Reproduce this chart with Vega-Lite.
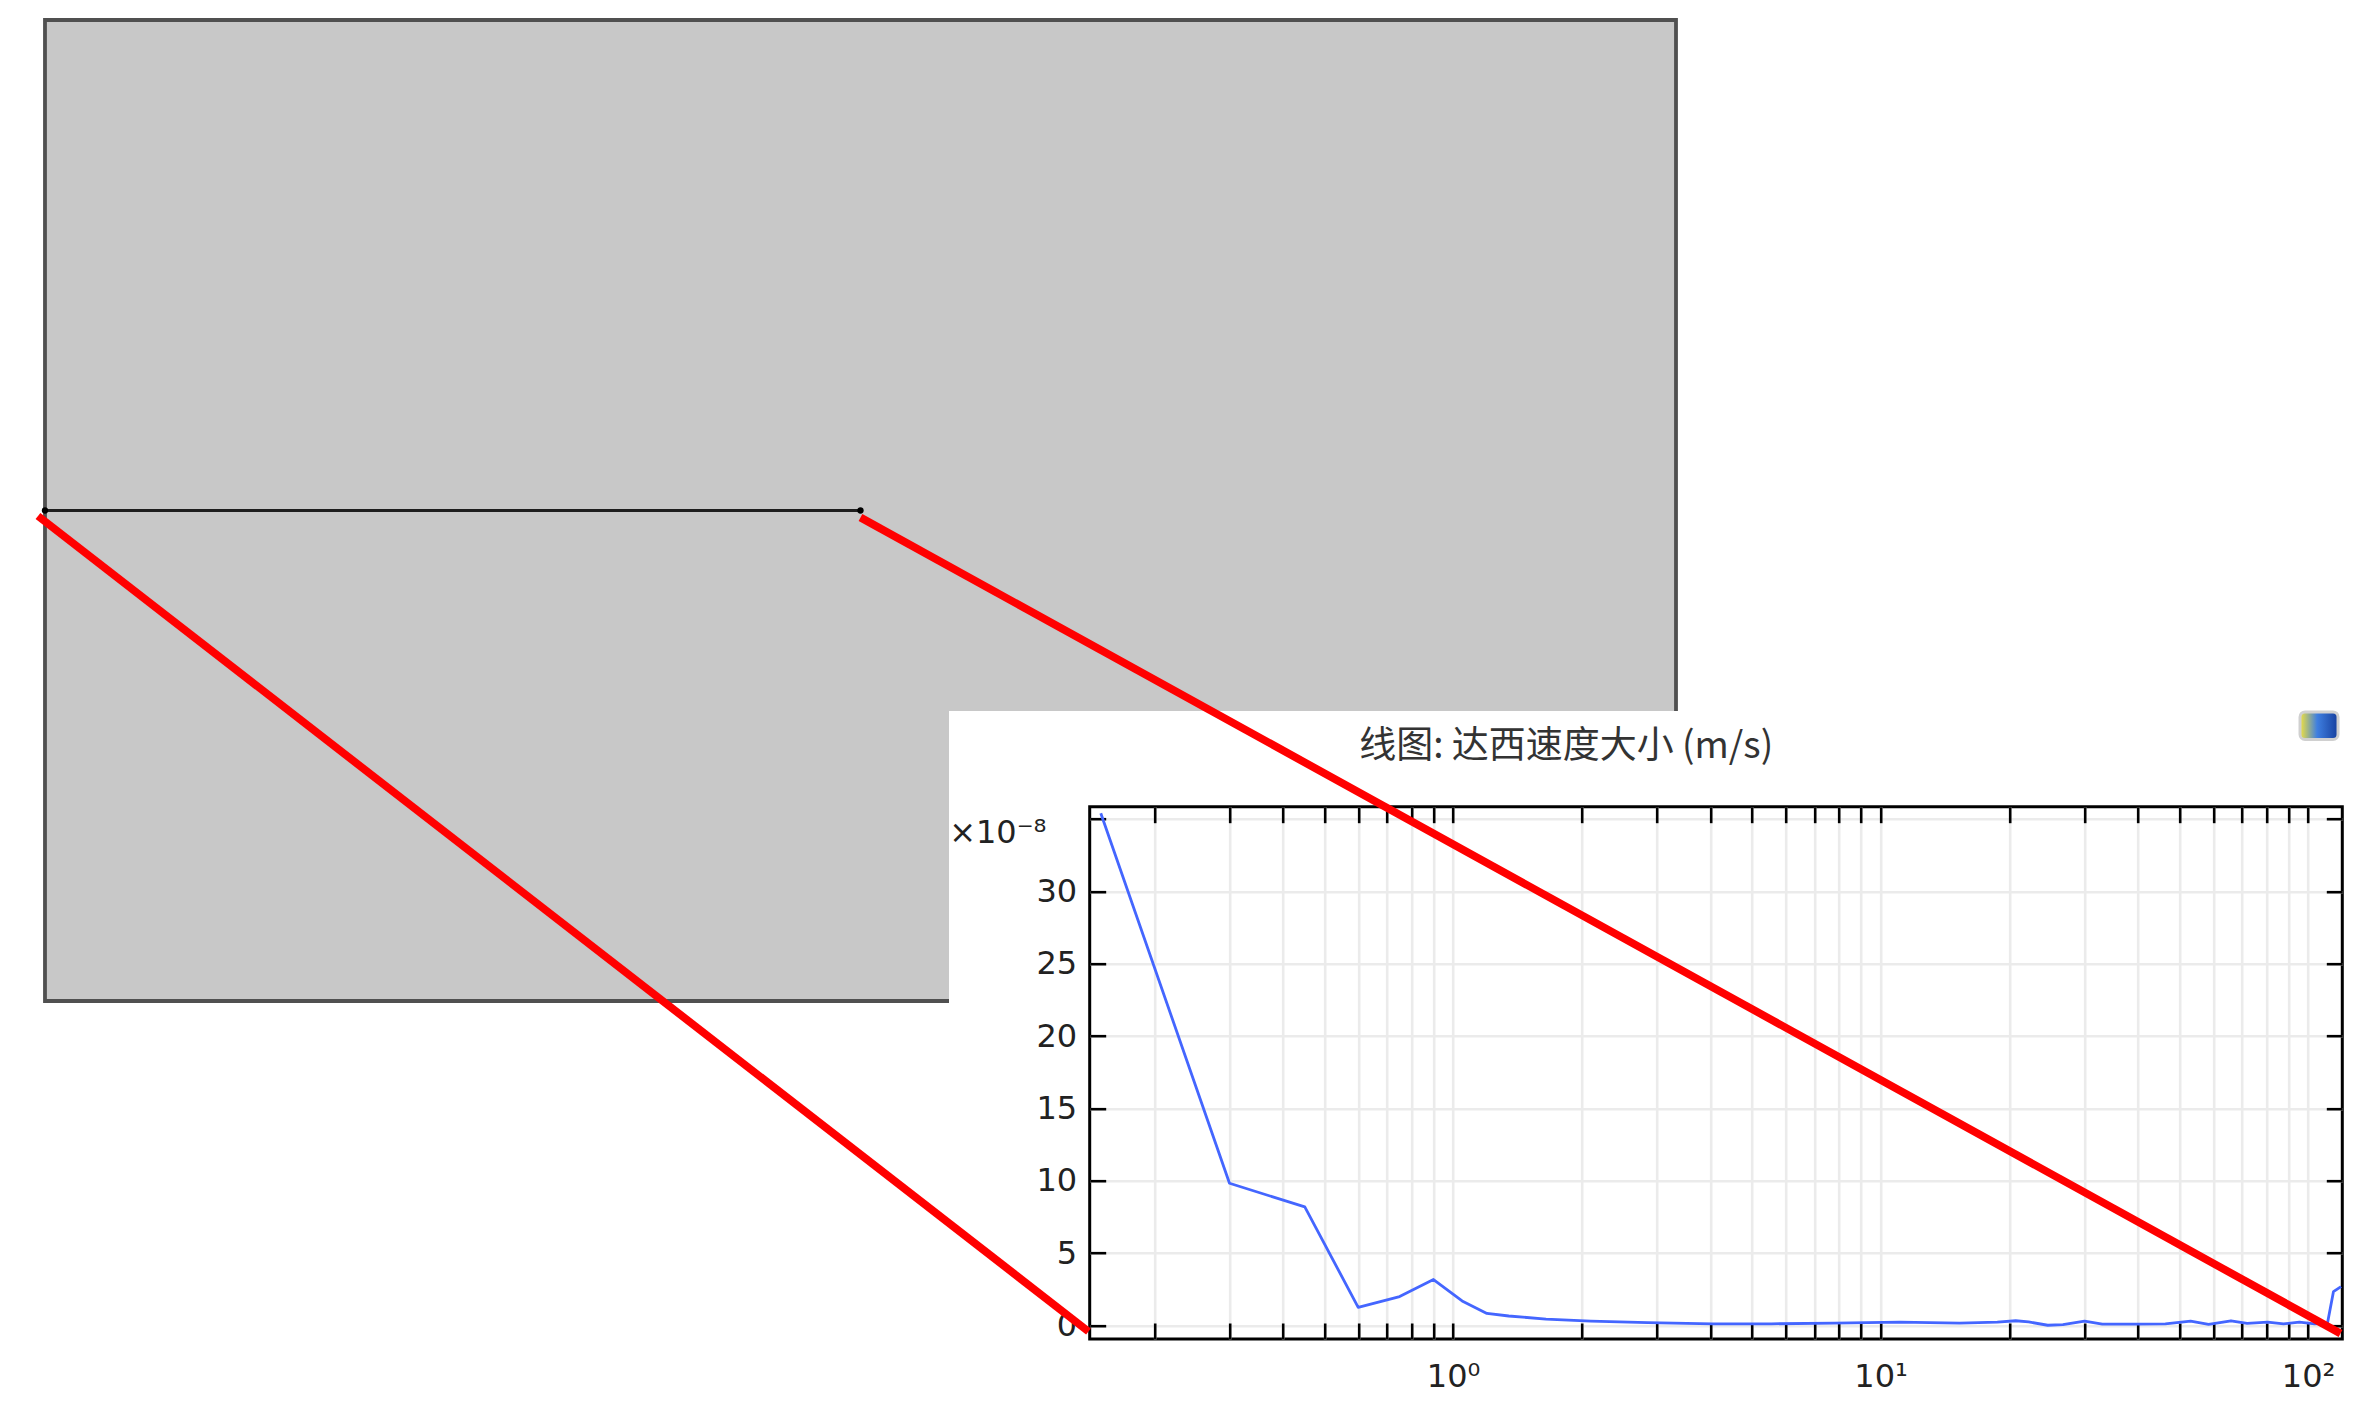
{
  "$schema": "https://vega.github.io/schema/vega-lite/v6.json",
  "autosize": {"type": "none"},
  "padding": {"left": 1089.7, "top": 806.7, "right": 33.7, "bottom": 65},
  "width": 1252.6,
  "height": 532.3,
  "background": "white",
  "config": {"view": {"stroke": "#000000", "strokeWidth": 3}},
  "datasets": {
    "region": [
      {"x0": 0, "x1": 1, "y0": 0.17737, "y1": 0.6},
      {"x0": 0, "x1": 0.55426, "y0": 0, "y1": 0.2}
    ],
    "outline": [
      {"k": 1, "gx": 0.55426, "gy": 0},
      {"k": 2, "gx": 0, "gy": 0},
      {"k": 3, "gx": 0, "gy": 0.6},
      {"k": 4, "gx": 1, "gy": 0.6},
      {"k": 5, "gx": 1, "gy": 0.17737}
    ],
    "cut": [{"x0": 0, "x1": 0.5, "y": 0.3}],
    "cutEnds": [{"gx": 0, "gy": 0.3}, {"gx": 0.5, "gy": 0.3}],
    "zoomLines": [
      {"id": "a", "k": 1, "gx": -0.00429, "gy": 0.29664},
      {"id": "a", "k": 2, "gx": 0.63979, "gy": -0.20214},
      {"id": "b", "k": 1, "gx": 0.5, "gy": 0.2957},
      {"id": "b", "k": 2, "gx": 1.40742, "gy": -0.20336}
    ],
    "icon": [{"x0": 1.3826, "x1": 1.4059, "y0": 0.1600, "y1": 0.1768}],
    "darcy": [
      {"t": 0.15, "v": 35.4},
      {"t": 0.3, "v": 9.83},
      {"t": 0.45, "v": 8.2},
      {"t": 0.6, "v": 1.26},
      {"t": 0.75, "v": 2.0},
      {"t": 0.9, "v": 3.18},
      {"t": 1.05, "v": 1.7},
      {"t": 1.2, "v": 0.84},
      {"t": 1.35, "v": 0.66},
      {"t": 1.65, "v": 0.45},
      {"t": 2.1, "v": 0.31},
      {"t": 2.85, "v": 0.2},
      {"t": 4.05, "v": 0.12},
      {"t": 5.55, "v": 0.12},
      {"t": 7.8, "v": 0.17},
      {"t": 11.1, "v": 0.24},
      {"t": 15.3, "v": 0.17},
      {"t": 18.75, "v": 0.24},
      {"t": 20.7, "v": 0.33},
      {"t": 22.2, "v": 0.25},
      {"t": 24.6, "v": 0.02},
      {"t": 26.7, "v": 0.06},
      {"t": 30, "v": 0.31},
      {"t": 33, "v": 0.1},
      {"t": 39.45, "v": 0.1},
      {"t": 46.35, "v": 0.12},
      {"t": 53.1, "v": 0.31},
      {"t": 58.5, "v": 0.08},
      {"t": 66, "v": 0.33},
      {"t": 72, "v": 0.15},
      {"t": 80.4, "v": 0.24},
      {"t": 87.6, "v": 0.12},
      {"t": 95.4, "v": 0.24},
      {"t": 103.5, "v": 0.12},
      {"t": 111, "v": 0.17},
      {"t": 114.6, "v": 2.34},
      {"t": 119.4, "v": 2.69}
    ]
  },
  "resolve": {"scale": {"x": "independent", "y": "independent"}},
  "layer": [
    {
      "layer": [
        {
          "data": {"name": "region"},
          "mark": {"type": "rect", "color": "#c8c8c8", "clip": false},
          "encoding": {
            "x": {"field": "x0", "type": "quantitative", "scale": {"domain": [0.64053, 1.40852], "nice": false, "zero": false}, "axis": null},
            "x2": {"field": "x1"},
            "y": {"field": "y0", "type": "quantitative", "scale": {"domain": [-0.20673, 0.11884], "nice": false, "zero": false}, "axis": null},
            "y2": {"field": "y1"}
          }
        },
        {
          "data": {"name": "outline"},
          "mark": {"type": "line", "color": "#505050", "strokeWidth": 3.8, "strokeJoin": "miter", "clip": false},
          "encoding": {
            "x": {"field": "gx", "type": "quantitative", "scale": {"domain": [0.64053, 1.40852], "nice": false, "zero": false}, "axis": null},
            "y": {"field": "gy", "type": "quantitative", "scale": {"domain": [-0.20673, 0.11884], "nice": false, "zero": false}, "axis": null},
            "order": {"field": "k", "type": "quantitative"}
          }
        },
        {
          "data": {"name": "cut"},
          "mark": {"type": "rule", "color": "#1e1e1e", "strokeWidth": 2.8, "clip": false},
          "encoding": {
            "x": {"field": "x0", "type": "quantitative", "scale": {"domain": [0.64053, 1.40852], "nice": false, "zero": false}, "axis": null},
            "x2": {"field": "x1"},
            "y": {"field": "y", "type": "quantitative", "scale": {"domain": [-0.20673, 0.11884], "nice": false, "zero": false}, "axis": null}
          }
        },
        {
          "data": {"name": "cutEnds"},
          "mark": {"type": "point", "filled": true, "color": "#000000", "size": 40, "opacity": 1, "clip": false},
          "encoding": {
            "x": {"field": "gx", "type": "quantitative", "scale": {"domain": [0.64053, 1.40852], "nice": false, "zero": false}, "axis": null},
            "y": {"field": "gy", "type": "quantitative", "scale": {"domain": [-0.20673, 0.11884], "nice": false, "zero": false}, "axis": null}
          }
        }
      ]
    },
    {
      "data": {"name": "darcy"},
      "resolve": {"axis": {"x": "independent", "y": "independent"}},
      "layer": [
        {
          "mark": {"type": "line", "color": "#4466ff", "strokeWidth": 2.8, "strokeJoin": "round"},
          "encoding": {
            "x": {
              "field": "t", "type": "quantitative",
              "scale": {"type": "log", "domain": [0.1413, 120.2], "nice": false},
              "axis": {
                "orient": "bottom",
                "values": [0.2, 0.3, 0.4, 0.5, 0.6, 0.7, 0.8, 0.9, 1, 2, 3, 4, 5, 6, 7, 8, 9, 10, 20, 30, 40, 50, 60, 70, 80, 90, 100],
                "labelExpr": "datum.value == 1 ? '10⁰' : datum.value == 10 ? '10¹' : datum.value == 100 ? '10²' : ''",
                "labelFont": "DejaVu Sans", "labelFontSize": 32, "labelColor": "#222222",
                "labelPadding": 38, "labelFlush": false, "labelOverlap": false,
                "tickSize": -16, "tickWidth": 2.6, "tickColor": "#000000",
                "domain": false,
                "grid": true, "gridColor": "#ebebeb", "gridWidth": 2.6,
                "title": null
              }
            },
            "y": {
              "field": "v", "type": "quantitative",
              "scale": {"domain": [-0.93, 35.85], "nice": false, "zero": false},
              "axis": {
                "orient": "left",
                "values": [0, 5, 10, 15, 20, 25, 30, 35],
                "labelExpr": "datum.value == 35 ? '' : datum.label",
                "labelFont": "DejaVu Sans", "labelFontSize": 32, "labelColor": "#222222",
                "labelPadding": 29, "labelFlush": false, "labelOverlap": false,
                "tickSize": -16, "tickWidth": 2.6, "tickColor": "#000000",
                "domain": false,
                "grid": true, "gridColor": "#ebebeb", "gridWidth": 2.6,
                "title": "×10⁻⁸",
                "titleAngle": 0, "titleAlign": "left", "titleBaseline": "alphabetic",
                "titleX": -141, "titleY": 36,
                "titleFont": "DejaVu Sans", "titleFontSize": 32, "titleFontWeight": "normal", "titleColor": "#222222"
              }
            }
          }
        },
        {
          "mark": {"type": "line", "opacity": 0},
          "encoding": {
            "x": {
              "field": "t", "type": "quantitative",
              "scale": {"type": "log", "domain": [0.1413, 120.2], "nice": false},
              "axis": {
                "orient": "top",
                "values": [0.2, 0.3, 0.4, 0.5, 0.6, 0.7, 0.8, 0.9, 1, 2, 3, 4, 5, 6, 7, 8, 9, 10, 20, 30, 40, 50, 60, 70, 80, 90, 100],
                "labels": false,
                "tickSize": -16, "tickWidth": 2.6, "tickColor": "#000000",
                "domain": false, "grid": false,
                "title": "线图: 达西速度大小 (m/s)",
                "titleAngle": 0, "titleAlign": "left", "titleBaseline": "alphabetic",
                "titleX": 269, "titleY": -49,
                "titleFont": "Noto Sans CJK SC", "titleFontSize": 37, "titleFontWeight": "normal", "titleColor": "#333333"
              }
            },
            "y": {
              "field": "v", "type": "quantitative",
              "scale": {"domain": [-0.93, 35.85], "nice": false, "zero": false},
              "axis": {
                "orient": "right",
                "values": [0, 5, 10, 15, 20, 25, 30, 35],
                "labels": false,
                "tickSize": -16, "tickWidth": 2.6, "tickColor": "#000000",
                "domain": false, "grid": false,
                "title": null
              }
            }
          }
        }
      ]
    },
    {
      "layer": [
        {
          "data": {"name": "icon"},
          "mark": {"type": "rect", "cornerRadius": 5, "clip": false, "stroke": "#d0d0d0", "strokeWidth": 3,
            "color": {"gradient": "linear", "x1": 0, "y1": 0, "x2": 1, "y2": 0, "stops": [{"offset": 0, "color": "#f2e23c"}, {"offset": 0.45, "color": "#3f7fe0"}, {"offset": 1, "color": "#163f9e"}]}},
          "encoding": {
            "x": {"field": "x0", "type": "quantitative", "scale": {"domain": [0.64053, 1.40852], "nice": false, "zero": false}, "axis": null},
            "x2": {"field": "x1"},
            "y": {"field": "y0", "type": "quantitative", "scale": {"domain": [-0.20673, 0.11884], "nice": false, "zero": false}, "axis": null},
            "y2": {"field": "y1"}
          }
        },
        {
          "data": {"name": "zoomLines"},
          "mark": {"type": "line", "color": "#ff0000", "strokeWidth": 7.8, "strokeCap": "butt", "clip": false},
          "encoding": {
            "x": {"field": "gx", "type": "quantitative", "scale": {"domain": [0.64053, 1.40852], "nice": false, "zero": false}, "axis": null},
            "y": {"field": "gy", "type": "quantitative", "scale": {"domain": [-0.20673, 0.11884], "nice": false, "zero": false}, "axis": null},
            "detail": {"field": "id", "type": "nominal"},
            "order": {"field": "k", "type": "quantitative"}
          }
        }
      ]
    }
  ]
}
